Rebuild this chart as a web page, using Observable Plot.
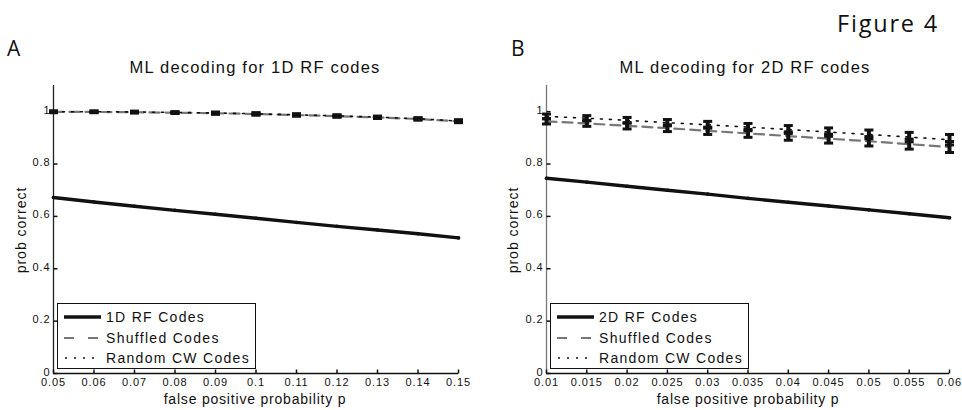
<!DOCTYPE html>
<html><head><meta charset="utf-8">
<script src="https://cdn.jsdelivr.net/npm/d3@7"></script>
<script src="https://cdn.jsdelivr.net/npm/@observablehq/plot@0.6"></script>
<style>
body{margin:0;background:#fff;}
#fig{position:relative;width:962px;height:410px;overflow:hidden;font-family:"Liberation Sans",Arial,sans-serif;color:#111;}
.abs{position:absolute;white-space:nowrap;line-height:1;}
.title{font-size:16.5px;letter-spacing:1.2px;transform:translateX(-50%);}
.xlab{font-size:14px;letter-spacing:0.8px;transform:translateX(-50%);}
.ylab{font-size:14px;letter-spacing:1px;transform:translate(-50%,-50%) rotate(-90deg);}
.panel{font-family:"Open Sans",sans-serif;font-size:21px;}
.fig4{font-family:"Open Sans",sans-serif;font-size:23.5px;letter-spacing:1.8px;}
.legend{background:#fff;border:1.5px solid #111;box-sizing:border-box;}
.row{position:absolute;left:0;height:20px;display:flex;align-items:center;}
.row span{font-size:14px;letter-spacing:1.3px;margin-left:4px;}
svg.plot{position:absolute;top:0;}
</style></head><body><div id="fig"></div><script>
// Panel A: 1D RF codes
const xA = [0.05, 0.06, 0.07, 0.08, 0.09, 0.10, 0.11, 0.12, 0.13, 0.14, 0.15];
const rfA = [0.672, 0.655, 0.639, 0.623, 0.608, 0.593, 0.577, 0.562, 0.548, 0.534, 0.518];
const shufA = [0.999, 0.999, 0.998, 0.996, 0.994, 0.991, 0.987, 0.983, 0.978, 0.972, 0.963];
const randA = [1.000, 1.000, 0.999, 0.997, 0.995, 0.992, 0.988, 0.984, 0.979, 0.973, 0.964];
const errShufA = [0.003, 0.003, 0.003, 0.003, 0.004, 0.004, 0.004, 0.004, 0.004, 0.004, 0.005];
const errRandA = [0.003, 0.003, 0.003, 0.003, 0.003, 0.004, 0.004, 0.004, 0.004, 0.004, 0.005];
const xTicksA = [0.05, 0.06, 0.07, 0.08, 0.09, 0.1, 0.11, 0.12, 0.13, 0.14, 0.15];

// Panel B: 2D RF codes
const xB = [0.01, 0.015, 0.02, 0.025, 0.03, 0.035, 0.04, 0.045, 0.05, 0.055, 0.06];
const rfB = [0.746, 0.731, 0.715, 0.700, 0.685, 0.669, 0.654, 0.640, 0.625, 0.610, 0.595];
const shufB = [0.963, 0.955, 0.946, 0.937, 0.927, 0.917, 0.907, 0.897, 0.887, 0.876, 0.865];
const randB = [0.982, 0.975, 0.967, 0.958, 0.950, 0.941, 0.932, 0.922, 0.913, 0.903, 0.893];
const errShufB = [0.010, 0.011, 0.012, 0.013, 0.014, 0.015, 0.016, 0.017, 0.018, 0.019, 0.021];
const errRandB = [0.009, 0.010, 0.011, 0.012, 0.013, 0.014, 0.015, 0.016, 0.017, 0.018, 0.020];
const xTicksB = [0.01, 0.015, 0.02, 0.025, 0.03, 0.035, 0.04, 0.045, 0.05, 0.055, 0.06];

const yTicks = [0, 0.2, 0.4, 0.6, 0.8, 1];
const yDomain = [0, 1.1];

const titles = ["ML decoding for 1D RF codes", "ML decoding for 2D RF codes"];
const xLabel = "false positive probability p";
const yLabel = "prob correct";
const legendA = ["1D RF Codes", "Shuffled Codes", "Random CW Codes"];
const legendB = ["2D RF Codes", "Shuffled Codes", "Random CW Codes"];

const symTickRight = {draw(c){c.moveTo(0,0); c.lineTo(4,0);}};
const symTickUp = {draw(c){c.moveTo(0,0); c.lineTo(0,-4);}};
const symCap = {draw(c){c.moveTo(-4.5,0); c.lineTo(4.5,0);}};

function panel(xs, rf, shuf, rand, eShuf, eRand, xTicks, opts) {
  const xDom = [xs[0], xs[xs.length - 1]];
  const rows = (vals) => xs.map((x, i) => ({x, y: vals[i]}));
  const errs = [];
  xs.forEach((x, i) => {
    errs.push({x, lo: shuf[i] - eShuf[i], hi: shuf[i] + eShuf[i]});
    errs.push({x, lo: rand[i] - eRand[i], hi: rand[i] + eRand[i]});
  });
  const caps = errs.flatMap(d => [{x: d.x, y: d.lo}, {x: d.x, y: d.hi}]);
  return Plot.plot({
    width: 481, height: 410,
    marginLeft: opts.ml, marginRight: opts.mr, marginTop: 85, marginBottom: 37,
    x: {domain: xDom, axis: null},
    y: {domain: yDomain, axis: null},
    style: {fontFamily: "Liberation Sans, Arial, sans-serif", fontSize: "11px", letterSpacing: "0.9px", color: "#111", background: "transparent", overflow: "visible"},
    marks: [
      Plot.ruleX([xDom[0]], {y1: yDomain[0], y2: yDomain[1], stroke: opts.yAxisColor, strokeWidth: 1.3}),
      Plot.ruleY([yDomain[0]], {x1: xDom[0], x2: xDom[1], stroke: "#111", strokeWidth: 1.5}),
      Plot.dot(yTicks, {x: () => xDom[0], y: d => d, symbol: symTickRight, stroke: "#111", strokeWidth: 1.5, fill: "none"}),
      Plot.dot(xTicks, {x: d => d, y: () => yDomain[0], symbol: symTickUp, stroke: "#111", strokeWidth: 1.5, fill: "none"}),
      Plot.text(yTicks, {x: () => xDom[0], y: d => d, text: d => String(d), textAnchor: "end", dx: -3, dy: -1.5, fill: "#111"}),
      Plot.text(xTicks, {x: d => d, y: () => yDomain[0], text: d => String(d), lineAnchor: "top", dy: 5, fill: "#111"}),
      Plot.line(rows(rf), {x: "x", y: "y", stroke: "#111", strokeWidth: 3.4}),
      Plot.line(rows(shuf), {x: "x", y: "y", stroke: "#777", strokeWidth: 2.2, strokeDasharray: "10,6"}),
      Plot.line(rows(rand), {x: "x", y: "y", stroke: "#111", strokeWidth: 1.6, strokeDasharray: "2,7"}),
      Plot.ruleX(errs, {x: "x", y1: "lo", y2: "hi", stroke: "#111", strokeWidth: 4}),
      Plot.dot(caps, {x: "x", y: "y", symbol: symCap, stroke: "#111", strokeWidth: 3, fill: "none"}),
      Plot.dot(rows(rf), {x: "x", y: "y", r: 1.8, fill: "#111"})
    ]
  });
}

const fig = document.getElementById("fig");
function addDiv(cls, text, left, top) {
  const d = document.createElement("div");
  d.className = "abs " + cls;
  d.textContent = text;
  d.style.left = left + "px";
  d.style.top = top + "px";
  fig.appendChild(d);
  return d;
}

const pA = panel(xA, rfA, shufA, randA, errShufA, errRandA, xTicksA, {ml: 53, mr: 23, yAxisColor: "#222"});
pA.classList.add("plot"); pA.style.left = "0px";
fig.appendChild(pA);
const pB = panel(xB, rfB, shufB, randB, errShufB, errRandB, xTicksB, {ml: 65, mr: 13, yAxisColor: "#777"});
pB.classList.add("plot"); pB.style.left = "481px";
fig.appendChild(pB);

addDiv("title", titles[0], 255, 59);
addDiv("title", titles[1], 745, 59);
addDiv("xlab", xLabel, 255, 392);
addDiv("xlab", xLabel, 748, 392);
addDiv("ylab", yLabel, 21, 230);
addDiv("ylab", yLabel, 513, 230);
addDiv("panel", "A", 7, 38);
addDiv("panel", "B", 511, 38);
addDiv("fig4", "Figure 4", 837, 12);

function legend(labels, left) {
  const box = document.createElement("div");
  box.className = "abs legend";
  Object.assign(box.style, {left: left + "px", top: "303px", width: "199px", height: "66px"});
  const samples = [
    '<line x1="0" y1="5" x2="37" y2="5" stroke="#111" stroke-width="3.4"/>',
    '<line x1="0" y1="5" x2="37" y2="5" stroke="#777" stroke-width="2.2" stroke-dasharray="10,14"/>',
    '<line x1="1" y1="5" x2="37" y2="5" stroke="#111" stroke-width="1.6" stroke-dasharray="2,7"/>'
  ];
  labels.forEach((lab, i) => {
    const r = document.createElement("div");
    r.className = "row";
    r.style.top = (3 + i * 20.5) + "px";
    r.style.left = "6px";
    r.innerHTML = '<svg width="38" height="10">' + samples[i] + '</svg><span></span>';
    r.querySelector("span").textContent = lab;
    box.appendChild(r);
  });
  fig.appendChild(box);
}
legend(legendA, 57);
legend(legendB, 550);
</script></body></html>
